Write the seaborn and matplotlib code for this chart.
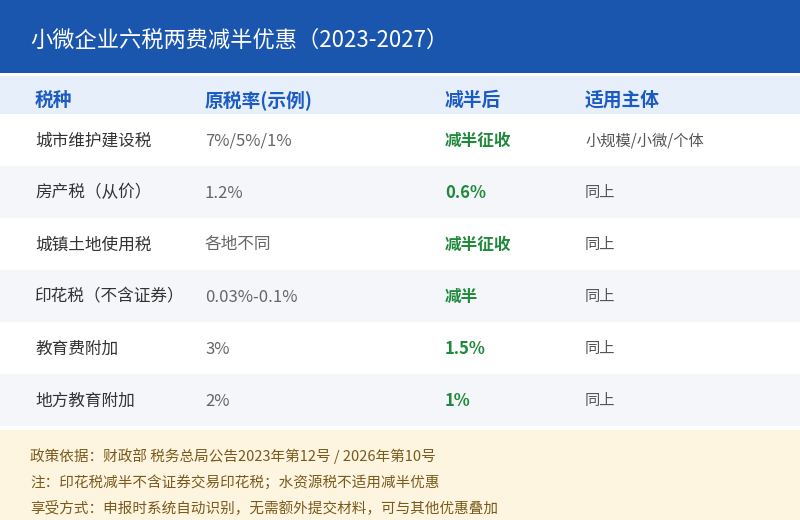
import matplotlib
matplotlib.use("Agg")
import matplotlib.pyplot as plt
import seaborn as sns
from matplotlib.patches import Rectangle

sns.set_theme(style="white")
plt.rcParams['font.family'] = ['Noto Sans CJK SC', 'DejaVu Sans']

title = "小微企业六税两费减半优惠（2023-2027）"
headers = ["税种", "原税率(示例)", "减半后", "适用主体"]
taxes = ["城市维护建设税", "房产税（从价）", "城镇土地使用税", "印花税（不含证券）", "教育费附加", "地方教育附加"]
rates = ["7%/5%/1%", "1.2%", "各地不同", "0.03%-0.1%", "3%", "2%"]
halved = ["减半征收", "0.6%", "减半征收", "减半", "1.5%", "1%"]
subjects = ["小规模/小微/个体", "同上", "同上", "同上", "同上", "同上"]
notes = ["政策依据：财政部 税务总局公告2023年第12号 / 2026年第10号",
         "注：印花税减半不含证券交易印花税；水资源税不适用减半优惠",
         "享受方式：申报时系统自动识别，无需额外提交材料，可与其他优惠叠加"]

fig = plt.figure(figsize=(8, 5.2), dpi=100)
ax = fig.add_axes([0, 0, 1, 1])
ax.set_xlim(0, 800); ax.set_ylim(520, 0); ax.axis("off")

ax.add_patch(Rectangle((0, 0), 800, 73, color="#1a55ae", lw=0))
ax.text(30, 40, title, color="white", fontsize=16, va="center")
ax.add_patch(Rectangle((0, 76), 800, 38, color="#e7effb", lw=0))
colx = [35, 205, 445, 585]
for x, h in zip(colx, headers):
    ax.text(x, 100, h, color="#1c5cc2", fontsize=13.5, fontweight="bold", va="center")
for i in range(len(taxes)):
    y0 = 114 + 52 * i
    if i % 2 == 1:
        ax.add_patch(Rectangle((0, y0), 800, 52, color="#f4f6f9", lw=0))
    yc = y0 + 27
    ax.text(35, yc, taxes[i], color="#333333", fontsize=12, va="center")
    ax.text(205, yc, rates[i], color="#666666", fontsize=12, va="center")
    ax.text(445, yc, halved[i], color="#1f8a3c", fontsize=12, fontweight="bold", va="center")
    ax.text(585, yc, subjects[i], color="#555555", fontsize=11, va="center")
ax.add_patch(Rectangle((0, 430), 800, 90, color="#fdf5df", lw=0))
for j, n in enumerate(notes):
    ax.text(30, 456 + 26 * j, n, color="#7a5a1c", fontsize=10.5, va="center")
fig.savefig("out.png", dpi=100)
